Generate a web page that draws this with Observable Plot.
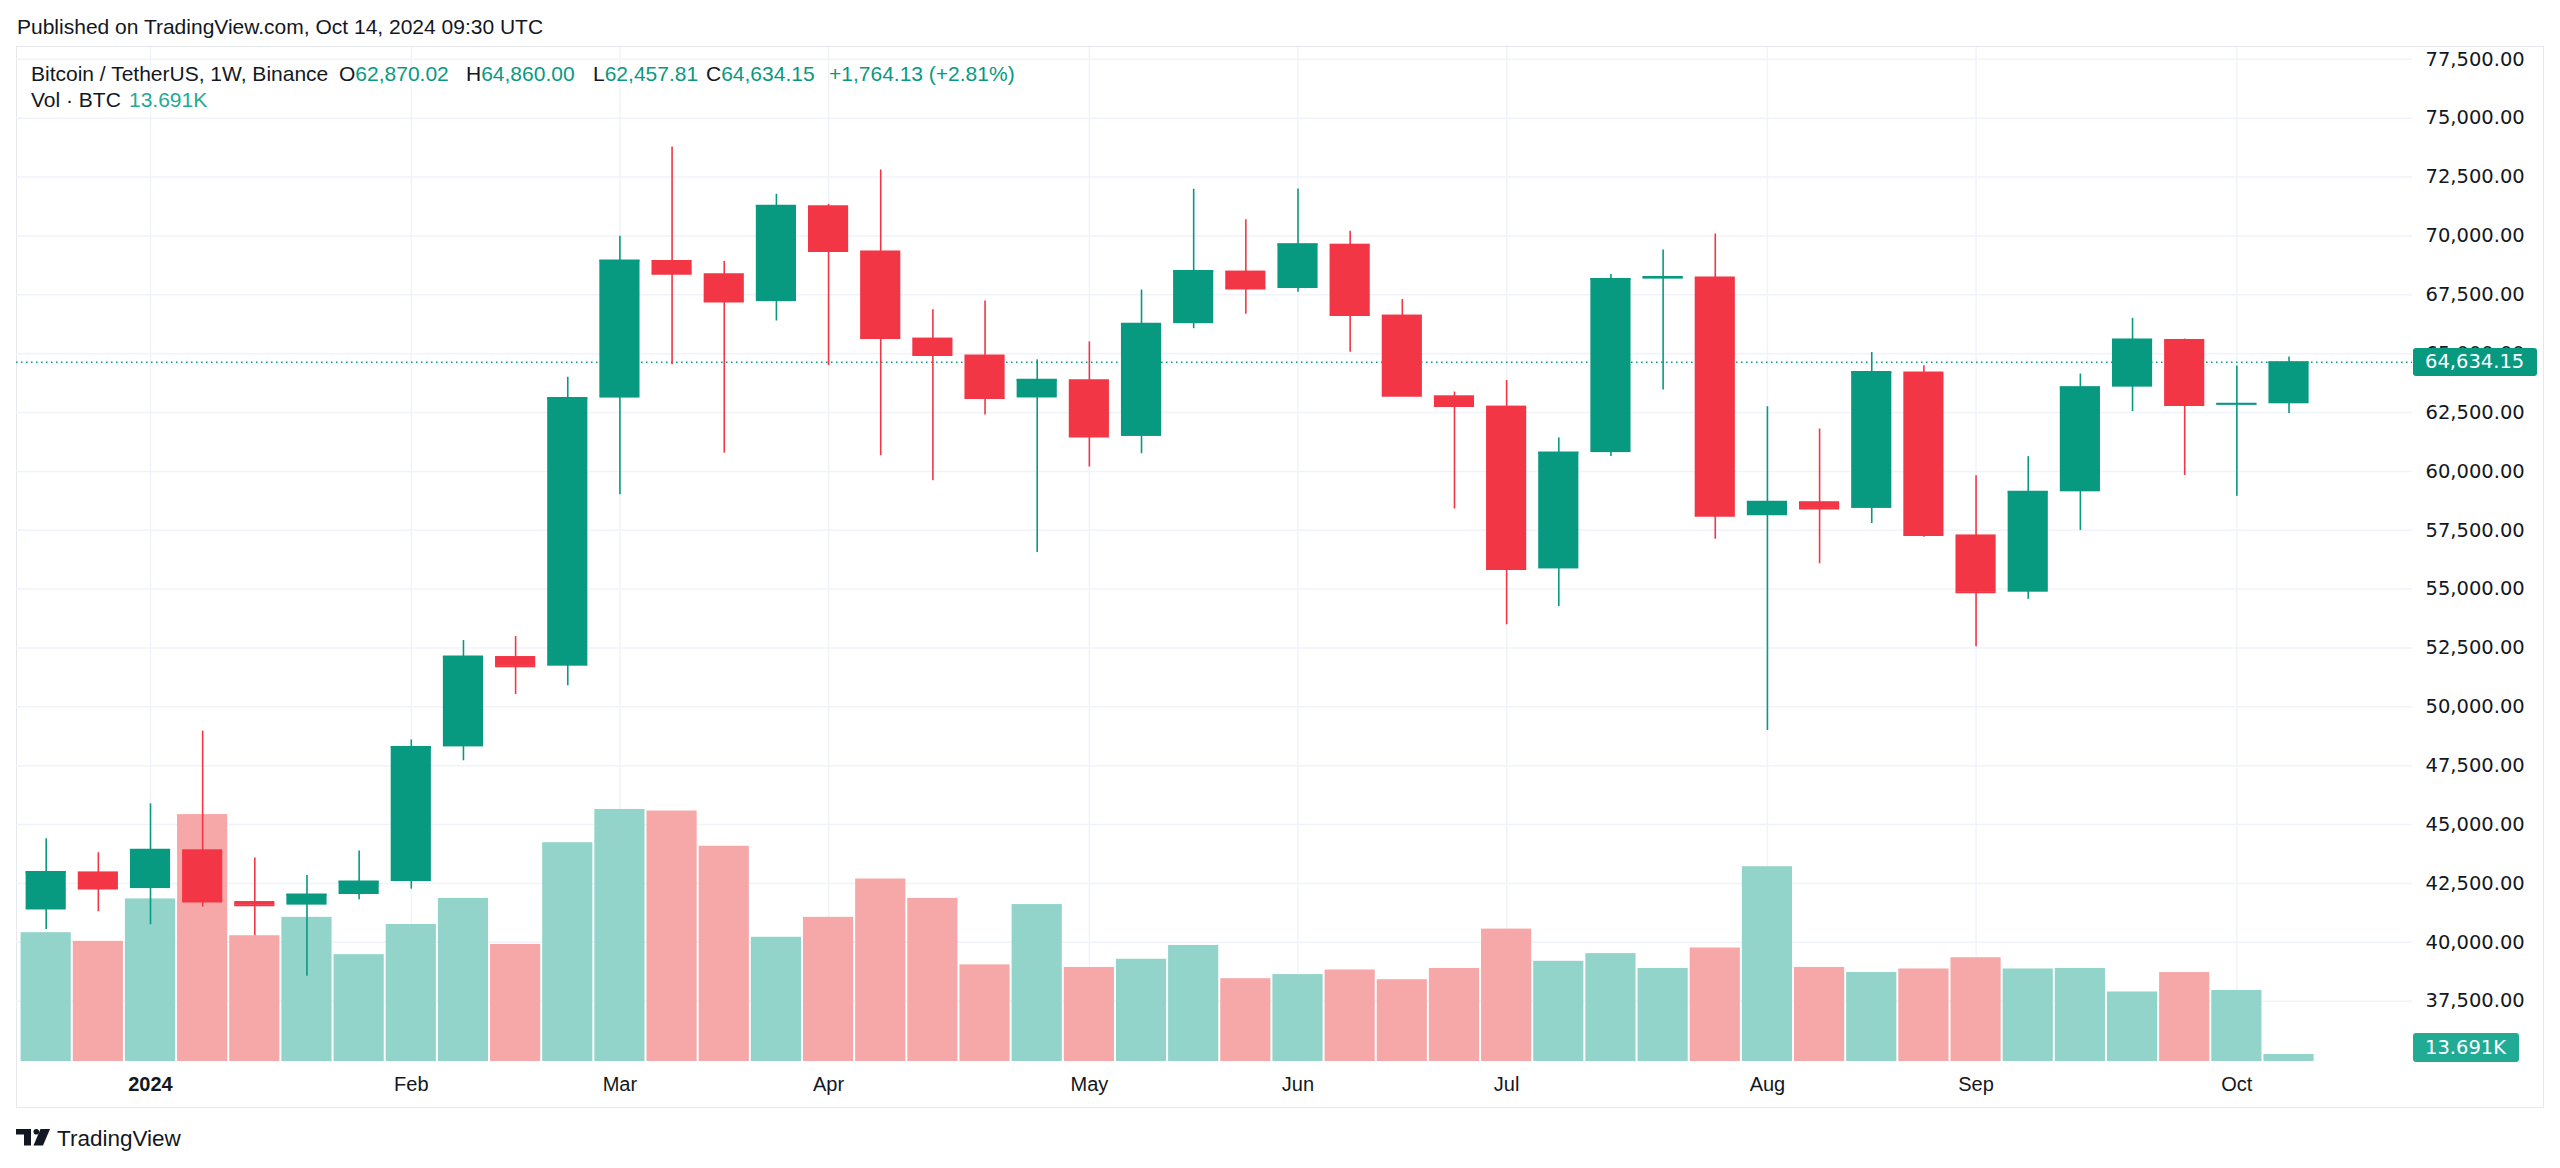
<!DOCTYPE html>
<html>
<head>
<meta charset="utf-8">
<script src="https://cdn.jsdelivr.net/npm/d3@7"></script>
<script src="https://cdn.jsdelivr.net/npm/@observablehq/plot@0.6"></script>
<style>
html, body { margin:0; padding:0; background:#fff; }
body { width:2560px; height:1168px; overflow:hidden; }
#root { position:relative; width:2560px; height:1168px; font-family:"Liberation Sans", Arial, sans-serif; color:#131722; }
.layer { position:absolute; left:0; top:0; width:2560px; height:1168px; }
.layer svg { display:block; overflow:visible; }
.txt { position:absolute; white-space:pre; line-height:1; }
.frame { position:absolute; left:16px; top:46px; width:2528px; height:1062px; border:1px solid #e6e8ee; box-sizing:border-box; }
.box { position:absolute; color:#fff; border-radius:3px; font-family:"DejaVu Sans", sans-serif; font-size:19.5px; display:flex; align-items:center; box-sizing:border-box; padding-left:12px; white-space:pre; }
.g { color:#089981; }
</style>
</head>
<body>
<div id="root">
  <div class="frame"></div>
  <div id="grid" class="layer"></div>
  <div id="vol" class="layer"></div>
  <div id="price" class="layer"></div>
  <div class="txt" style="left:17px; top:16px; font-size:21px;">Published on TradingView.com, Oct 14, 2024 09:30 UTC</div>
  <div class="txt" id="leg-title" style="left:31px; top:63px; font-size:21px;"></div>
  <div class="txt" id="leg-o" style="left:339px; top:63px; font-size:21px;"></div>
  <div class="txt" id="leg-h" style="left:466px; top:63px; font-size:21px;"></div>
  <div class="txt" id="leg-l" style="left:593px; top:63px; font-size:21px;"></div>
  <div class="txt" id="leg-c" style="left:706px; top:63px; font-size:21px;"></div>
  <div class="txt g" id="leg-chg" style="left:829px; top:63px; font-size:21px;"></div>
  <div class="txt" style="left:31px; top:89px; font-size:21px;">Vol · BTC</div>
  <div class="txt" id="leg-vol" style="left:129px; top:89px; font-size:21px; color:#22ab94;"></div>
  <div class="box" id="pricebox"></div>
  <div class="box" id="volbox"></div>
  <svg style="position:absolute; left:16px; top:1129px;" width="36" height="17" viewBox="0 0 36 17">
    <path d="M0 0 H15 V16.5 H8 V5.5 H0 Z" fill="#131722"/>
    <circle cx="20.3" cy="2.8" r="2.8" fill="#131722"/>
    <path d="M24.5 0 H34 L27 16.5 H17.5 Z" fill="#131722"/>
  </svg>
  <div class="txt" style="left:57px; top:1128px; font-size:22.5px;">TradingView</div>
</div>
<script>
// ---- data (weekly candles, BTC/USDT, Binance) ----
const dates = ["2023-12-18","2023-12-25","2024-01-01","2024-01-08","2024-01-15","2024-01-22","2024-01-29","2024-02-05","2024-02-12","2024-02-19","2024-02-26","2024-03-04","2024-03-11","2024-03-18","2024-03-25","2024-04-01","2024-04-08","2024-04-15","2024-04-22","2024-04-29","2024-05-06","2024-05-13","2024-05-20","2024-05-27","2024-06-03","2024-06-10","2024-06-17","2024-06-24","2024-07-01","2024-07-08","2024-07-15","2024-07-22","2024-07-29","2024-08-05","2024-08-12","2024-08-19","2024-08-26","2024-09-02","2024-09-09","2024-09-16","2024-09-23","2024-09-30","2024-10-07","2024-10-14"];
const open  = [41374,42991,42283,43929,41732,41580,42031,42582,48299,52137,51728,63113,68955,68393,67210,71280,69360,65661,64941,63118,63891,61484,66274,68507,67766,69648,66639,63210,62772,55857,60797,68165,68255,58116,58712,58427,64220,57301,54869,59132,63578,65602,62819,62870.02];
const high  = [44398,43804,45879,48969,43578,42842,43882,48592,52816,52985,64000,69990,73777,68920,71769,71342,72797,66867,67233,64734,65500,67700,71979,70687,71997,70195,67298,63369,63861,61420,68366,69399,70079,62745,61800,65050,64481,59810,60625,64133,66498,65618,64478,64860.00];
const low   = [40550,41300,40750,41500,40280,38555,41804,42258,47710,50521,50901,59005,64533,60775,66385,64493,60660,59600,62391,56552,60187,60749,66060,66670,67612,65060,63180,58402,53485,54260,60632,63456,57122,49000,56078,57787,57201,52550,54566,57493,62538,59828,58946,62457.81];
const close = [42991,42283,43929,41732,41580,42031,42582,48299,52137,51728,63113,68955,68393,67210,71280,69360,65661,64941,63118,63891,61484,66274,68507,67766,69648,66639,63210,62772,55857,60797,68165,68255,58116,58712,58427,64220,57301,54869,59132,63578,65602,62819,62870.02,64634.15];
const volumeK = [252,235,318,483,246,282,209,268,319,229,428,493,490,421,243,282,357,319,189,307,184,200,227,162,170,179,160,182,259,196,211,182,222,381,184,174,181,203,181,182,136,174,139,13.691];
const priceTicks = [37500,40000,42500,45000,47500,50000,52500,55000,57500,60000,62500,65000,67500,70000,72500,75000,77500];
const monthTicks = ["2024-01-01","2024-02-05","2024-03-04","2024-04-01","2024-05-06","2024-06-03","2024-07-01","2024-08-05","2024-09-02","2024-10-07"];
const monthLabels = ["2024","Feb","Mar","Apr","May","Jun","Jul","Aug","Sep","Oct"];
const symbolTitle = "Bitcoin / TetherUS, 1W, Binance";

// ---- styles ----
const UP = "#089981", DOWN = "#F23645", VUP = "#92d3ca", VDOWN = "#f5a8a7", GRID = "#f0f3fa";
const W = 2560, H = 1168;
const M = {marginLeft: 16, marginRight: 148, marginTop: 47, marginBottom: 107};

const rows = dates.map((d, i) => ({date: d, open: open[i], high: high[i], low: low[i], close: close[i], vol: volumeK[i], up: close[i] >= open[i]}));
const xOpts = {type: "band", domain: dates, range: [19.6, 2314.6], padding: 0, round: false};
const yPrice = {domain: [37500, 77500], range: [1000.7, 58.8]};
const labelMap = new Map(monthTicks.map((d, i) => [d, monthLabels[i]]));
const last = rows[rows.length - 1];
const fmt2 = d3.format(",.2f");

// grid layer
const gridPlot = Plot.plot({
  width: W, height: H, ...M,
  x: {...xOpts, axis: null}, y: {...yPrice, axis: null},
  style: {background: "transparent"},
  marks: [
    Plot.gridY({ticks: priceTicks, stroke: GRID, strokeOpacity: 1, strokeWidth: 1.5}),
    Plot.gridX({ticks: monthTicks, stroke: GRID, strokeOpacity: 1, strokeWidth: 1.5})
  ]
});
document.getElementById("grid").append(gridPlot);

// volume layer
const volPlot = Plot.plot({
  width: W, height: H, ...M,
  x: {...xOpts, axis: null},
  y: {domain: [0, 500], range: [1061, 805.4], axis: null},
  color: {type: "identity"},
  style: {background: "transparent"},
  marks: [
    Plot.barY(rows, {x: "date", y1: 0, y2: "vol", fill: d => d.up ? VUP : VDOWN, insetLeft: 1, insetRight: 1})
  ]
});
document.getElementById("vol").append(volPlot);

// price layer
const pricePlot = Plot.plot({
  width: W, height: H, ...M,
  x: {...xOpts, label: null}, y: {...yPrice, label: null},
  color: {type: "identity"},
  style: {background: "transparent", color: "#131722", fontFamily: "'Liberation Sans', Arial, sans-serif", fontSize: "20px"},
  marks: [
    Plot.ruleY([last.close], {stroke: UP, strokeWidth: 1.5, strokeDasharray: "1.5,3.5"}),
    Plot.ruleX(rows, {x: "date", y1: "low", y2: "high", stroke: d => d.up ? UP : DOWN, strokeWidth: 1.6}),
    Plot.barY(rows, {x: "date", y1: "open", y2: "close", fill: d => d.up ? UP : DOWN, insetLeft: 6, insetRight: 6}),
    Plot.tickY(rows, {x: "date", y: "close", stroke: d => d.up ? UP : DOWN, strokeWidth: 2, insetLeft: 6, insetRight: 6}),
    Plot.axisY({anchor: "right", ticks: priceTicks, tickFormat: fmt2, tickSize: 0, tickPadding: 13, label: null,
      fontFamily: "DejaVu Sans, sans-serif", fontSize: 19.5, fill: "#131722"}),
    Plot.axisX({ticks: monthTicks.slice(1), tickFormat: d => labelMap.get(d), tickSize: 0, tickPadding: 15, label: null, fill: "#131722"}),
    Plot.axisX({ticks: monthTicks.slice(0, 1), tickFormat: d => labelMap.get(d), tickSize: 0, tickPadding: 15, label: null, fontWeight: "bold", fill: "#131722"})
  ]
});
document.getElementById("price").append(pricePlot);

// legend texts
const chg = last.close - last.open;
document.getElementById("leg-title").textContent = symbolTitle;
document.getElementById("leg-o").innerHTML = `O<span class="g">${fmt2(last.open)}</span>`;
document.getElementById("leg-h").innerHTML = `H<span class="g">${fmt2(last.high)}</span>`;
document.getElementById("leg-l").innerHTML = `L<span class="g">${fmt2(last.low)}</span>`;
document.getElementById("leg-c").innerHTML = `C<span class="g">${fmt2(last.close)}</span>`;
document.getElementById("leg-chg").textContent = `${chg >= 0 ? "+" : ""}${fmt2(chg)} (${chg >= 0 ? "+" : ""}${(chg / last.open * 100).toFixed(2)}%)`;
document.getElementById("leg-vol").textContent = d3.format(".3f")(last.vol) + "K";

// axis label boxes, positioned through the plots' scales
const py = pricePlot.scale("y").apply(last.close);
const pb = document.getElementById("pricebox");
pb.textContent = fmt2(last.close);
Object.assign(pb.style, {left: "2413px", top: (py - 14) + "px", width: "124px", height: "28px", background: UP});
const vy = volPlot.scale("y").apply(0);
const vb = document.getElementById("volbox");
vb.textContent = d3.format(".3f")(last.vol) + "K";
Object.assign(vb.style, {left: "2413px", top: (vy - 28) + "px", width: "106px", height: "29px", background: "#22ab94"});
</script>
</body>
</html>
